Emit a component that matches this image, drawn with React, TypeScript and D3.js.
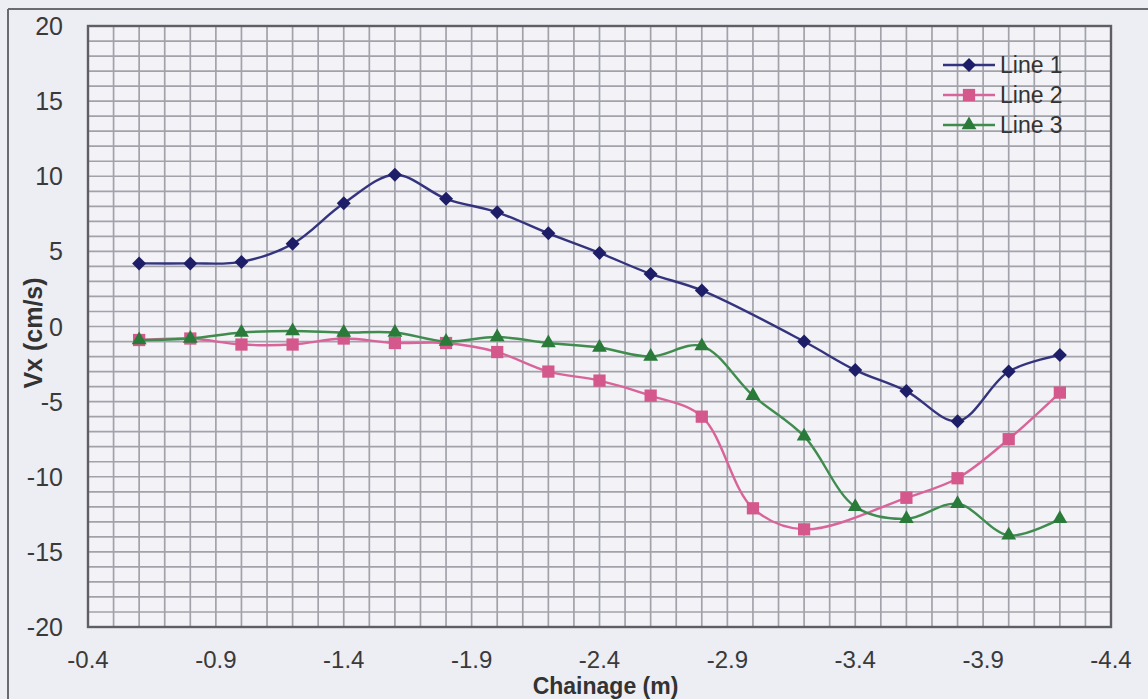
import React from "react";
import * as d3 from "d3";

const line1X = [-0.6, -0.8, -1.0, -1.2, -1.4, -1.6, -1.8, -2.0, -2.2, -2.4, -2.6, -2.8, -3.2, -3.4, -3.6, -3.8, -4.0, -4.2];
const line1Y = [4.2, 4.2, 4.3, 5.5, 8.2, 10.1, 8.5, 7.6, 6.2, 4.9, 3.5, 2.4, -1.0, -2.9, -4.3, -6.3, -3.0, -1.9];

const line2X = [-0.6, -0.8, -1.0, -1.2, -1.4, -1.6, -1.8, -2.0, -2.2, -2.4, -2.6, -2.8, -3.0, -3.2, -3.6, -3.8, -4.0, -4.2];
const line2Y = [-0.9, -0.8, -1.2, -1.2, -0.8, -1.1, -1.1, -1.7, -3.0, -3.6, -4.6, -6.0, -12.1, -13.5, -11.4, -10.1, -7.5, -4.4];

const line3X = [-0.6, -0.8, -1.0, -1.2, -1.4, -1.6, -1.8, -2.0, -2.2, -2.4, -2.6, -2.8, -3.0, -3.2, -3.4, -3.6, -3.8, -4.0, -4.2];
const line3Y = [-0.9, -0.8, -0.4, -0.3, -0.4, -0.4, -1.0, -0.7, -1.1, -1.4, -2.0, -1.3, -4.6, -7.3, -12.0, -12.8, -11.8, -13.9, -12.8];

const seriesNames = ["Line 1", "Line 2", "Line 3"];
const seriesColors = ["#34347e", "#d8649a", "#3f8c4e"];
const markerColors = ["#1e1e68", "#d4588c", "#2a7a3a"];
const markerShapes = ["diamond", "square", "triangle"];

const xTicks = [-0.4, -0.9, -1.4, -1.9, -2.4, -2.9, -3.4, -3.9, -4.4];
const yTicks = [20, 15, 10, 5, 0, -5, -10, -15, -20];

const W = 1148;
const H = 699;
const L = 88, R = 1111, T = 26, B = 627;

export default function App() {
  const x = d3.scaleLinear().domain([-0.4, -4.4]).range([L, R]);
  const y = d3.scaleLinear().domain([-20, 20]).range([B, T]);

  const series = [
    { xs: line1X, ys: line1Y },
    { xs: line2X, ys: line2Y },
    { xs: line3X, ys: line3Y },
  ];

  const lineGen = d3
    .line<[number, number]>()
    .x((d) => x(d[0]))
    .y((d) => y(d[1]))
    .curve(d3.curveCatmullRom.alpha(0.5));

  const vGridVals = d3.range(0, 41).map((i) => -0.4 - i * 0.1);
  const hGridVals = d3.range(-20, 21, 1);

  const symbolSize = (shape: string) =>
    shape === "triangle" ? 95 : shape === "square" ? 150 : 125;
  const symbolFor = (shape: string) => {
    const size = symbolSize(shape);
    if (shape === "diamond") return d3.symbol().type(d3.symbolDiamond2).size(size)();
    if (shape === "square") return d3.symbol().type(d3.symbolSquare).size(size)();
    return d3.symbol().type(d3.symbolTriangle).size(size)();
  };

  const font = "Liberation Sans, Arial, sans-serif";

  return (
    <svg
      width={W}
      height={H}
      style={{ position: "absolute", left: 0, top: 0, background: "#ededf4" }}
    >
      <rect x={0} y={0} width={W} height={H} fill="#ededf4" />
      {/* outer frame */}
      <line x1={8} y1={9} x2={W} y2={9} stroke="#6a6a70" strokeWidth={2} />
      <line x1={8} y1={9} x2={8} y2={H} stroke="#6a6a70" strokeWidth={2} />

      {/* plot background */}
      <rect x={L} y={T} width={R - L} height={B - T} fill="#f2f2f7" />

      {/* grid */}
      {vGridVals.map((v, i) => (
        <line
          key={"v" + i}
          x1={x(v)}
          x2={x(v)}
          y1={T}
          y2={B}
          stroke="#a2a2aa"
          strokeWidth={1.7}
        />
      ))}
      {hGridVals.map((v, i) => (
        <line
          key={"h" + i}
          x1={L}
          x2={R}
          y1={y(v)}
          y2={y(v)}
          stroke="#a2a2aa"
          strokeWidth={1.7}
        />
      ))}

      {/* plot border */}
      <rect x={L} y={T} width={R - L} height={B - T} fill="none" stroke="#5e5e64" strokeWidth={2.4} />

      {/* series */}
      {series.map((s, si) => {
        const pts: [number, number][] = s.xs.map((xv, i) => [xv, s.ys[i]]);
        return (
          <g key={"s" + si}>
            <path d={lineGen(pts) || ""} fill="none" stroke={seriesColors[si]} strokeWidth={2.4} />
            {pts.map((p, i) => (
              <path
                key={i}
                d={symbolFor(markerShapes[si]) || ""}
                transform={`translate(${x(p[0])},${y(p[1])})`}
                fill={markerColors[si]}
              />
            ))}
          </g>
        );
      })}

      {/* y tick labels */}
      {yTicks.map((t) => (
        <text
          key={"yt" + t}
          x={63}
          y={y(t)}
          dy="0.36em"
          textAnchor="end"
          fontFamily={font}
          fontSize={25}
          fill="#3a3a3a"
        >
          {t}
        </text>
      ))}

      {/* x tick labels */}
      {xTicks.map((t) => (
        <text
          key={"xt" + t}
          x={x(t)}
          y={668}
          textAnchor="middle"
          fontFamily={font}
          fontSize={24}
          fill="#3a3a3a"
        >
          {t.toFixed(1)}
        </text>
      ))}

      {/* axis titles */}
      <text
        x={(L + R) / 2 + 6}
        y={694}
        textAnchor="middle"
        fontFamily={font}
        fontSize={23}
        fontWeight="bold"
        fill="#333"
      >
        Chainage (m)
      </text>
      <text
        transform={`translate(42,333) rotate(-90)`}
        textAnchor="middle"
        fontFamily={font}
        fontSize={25}
        fontWeight="bold"
        fill="#333"
      >
        Vx (cm/s)
      </text>

      {/* legend */}
      {seriesNames.map((n, i) => {
        const cy = 65 + i * 30;
        return (
          <g key={"lg" + i}>
            <line x1={943} x2={995} y1={cy} y2={cy} stroke={seriesColors[i]} strokeWidth={2.4} />
            <path
              d={symbolFor(markerShapes[i]) || ""}
              transform={`translate(969,${cy})`}
              fill={markerColors[i]}
            />
            <text x={1000} y={cy} dy="0.36em" fontFamily={font} fontSize={23} fill="#333">
              {n}
            </text>
          </g>
        );
      })}
    </svg>
  );
}
